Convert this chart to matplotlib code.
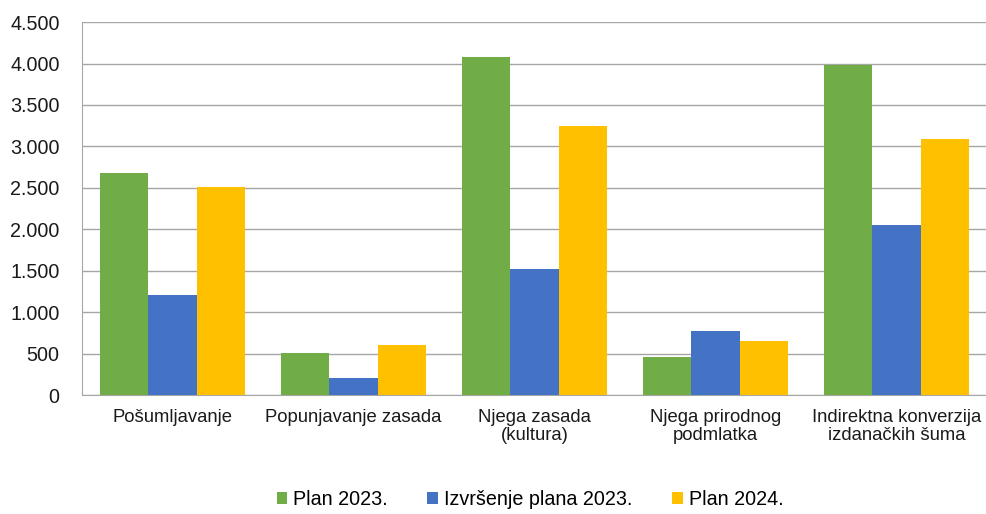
import numpy as np
import matplotlib.pyplot as plt
from matplotlib.ticker import FuncFormatter

plt.rcParams['font.family'] = ['Liberation Sans', 'DejaVu Sans']

# podaci
kategorije = ['Pošumljavanje', 'Popunjavanje zasada', 'Njega zasada\n(kultura)',
              'Njega prirodnog\npodmlatka', 'Indirektna konverzija\nizdanačkih šuma']
plan_2023 = [2680, 505, 4075, 455, 3980]
izvrsenje_2023 = [1205, 200, 1520, 770, 2050]
plan_2024 = [2505, 600, 3245, 650, 3090]

serije = ['Plan 2023.', 'Izvršenje plana 2023.', 'Plan 2024.']
boje = ['#70AD47', '#4472C4', '#FFC000']

fig = plt.figure(figsize=(9.87, 5.14), dpi=100)
ax = fig.add_axes([0.083, 0.2315, 0.917, 0.7255])

x = np.arange(len(kategorije))
w = 0.268
for i, (vals, lab, c) in enumerate(zip([plan_2023, izvrsenje_2023, plan_2024], serije, boje)):
    ax.bar(x + (i - 1) * w, vals, w, color=c, label=lab, zorder=3)

ax.set_xlim(-0.5, len(kategorije) - 0.5)
ax.set_ylim(0, 4500)
ax.set_yticks(np.arange(0, 4501, 500))
ax.yaxis.set_major_formatter(FuncFormatter(lambda v, p: f'{int(v):,}'.replace(',', '.')))
ax.grid(axis='y', color='#A6A6A6', linewidth=1, zorder=0)
ax.set_xticks(x)
ax.set_xticklabels(kategorije, fontsize=13.3, color='#1a1a1a', linespacing=1.05)
ax.tick_params(axis='y', labelsize=14.2, labelcolor='#1a1a1a', length=0, pad=16)
ax.tick_params(axis='x', length=0, pad=10)

for s in ['top', 'right']:
    ax.spines[s].set_visible(False)
ax.spines['left'].set_color('#A6A6A6')
ax.spines['bottom'].set_color('#A6A6A6')

fig.legend(loc='lower center', bbox_to_anchor=(0.537, -0.025), ncol=3, frameon=False,
           fontsize=14.2, handlelength=0.55, handleheight=0.55, handletextpad=0.3,
           columnspacing=2.0)

fig.savefig('out.png', dpi=100)
